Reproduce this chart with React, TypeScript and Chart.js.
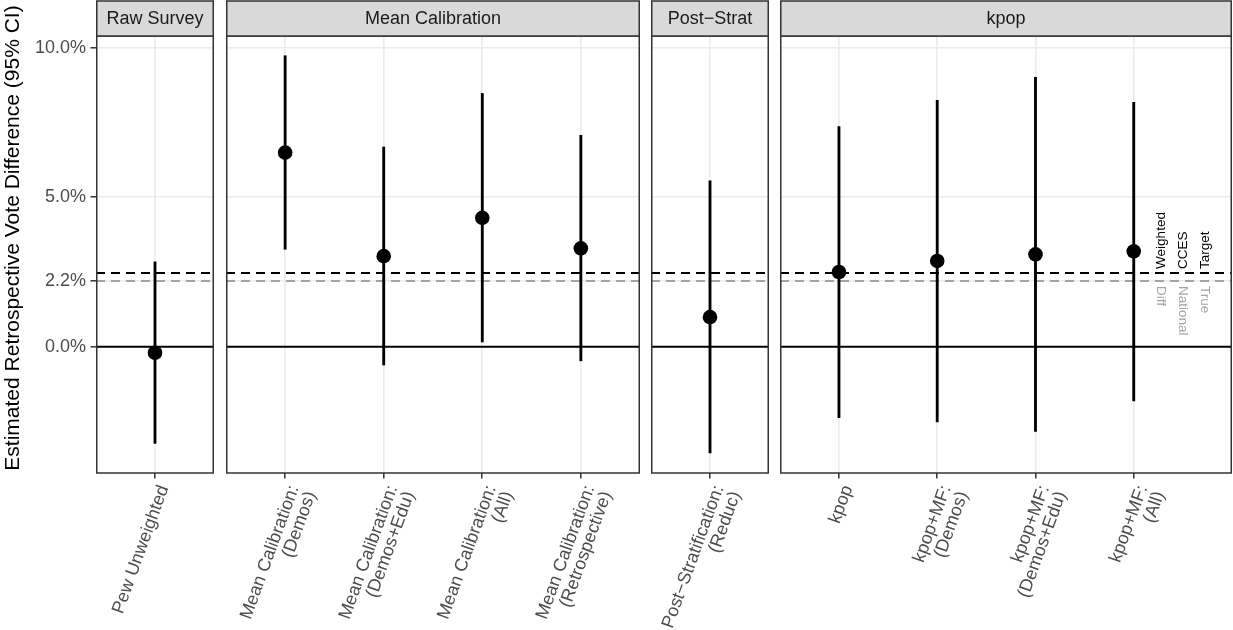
import React, { useEffect, useRef } from 'react';
import { Chart, registerables } from 'chart.js';

Chart.register(...registerables);

const FONT = "'Liberation Sans', Arial, Helvetica, sans-serif";

// ---------- data ----------
const FACETS = ['Raw Survey', 'Mean Calibration', 'Post\u2212Strat', 'kpop'];

const RAW_LABELS: (string | string[])[] = ['Pew Unweighted'];
const RAW_EST = [-0.2];
const RAW_LO = [-3.23];
const RAW_HI = [2.84];

const MEAN_LABELS: (string | string[])[] = [
  ['Mean Calibration:', '(Demos)'],
  ['Mean Calibration:', '(Demos+Edu)'],
  ['Mean Calibration:', '(All)'],
  ['Mean Calibration:', '(Retrospective)'],
];
const MEAN_EST = [6.49, 3.03, 4.31, 3.29];
const MEAN_LO = [3.26, -0.61, 0.16, -0.47];
const MEAN_HI = [9.73, 6.68, 8.47, 7.07];

const POST_LABELS: (string | string[])[] = [['Post\u2212Stratification:', '(Reduc)']];
const POST_EST = [0.99];
const POST_LO = [-3.55];
const POST_HI = [5.55];

const KPOP_LABELS: (string | string[])[] = [
  'kpop',
  ['kpop+MF:', '(Demos)'],
  ['kpop+MF:', '(Demos+Edu)'],
  ['kpop+MF:', '(All)'],
];
const KPOP_EST = [2.5, 2.87, 3.09, 3.19];
const KPOP_LO = [-2.37, -2.51, -2.83, -1.81];
const KPOP_HI = [7.36, 8.24, 9.01, 8.17];

const Y_BREAKS = [0, 2.2, 5, 10];
const Y_MIN = -4.22;
const Y_MAX = 10.39;
const ZERO_LINE = 0;
const WEIGHTED_TARGET = 2.47;
const TRUE_DIFF = 2.2;
const TARGET_LABEL = ['Weighted', 'CCES', 'Target'];
const TRUE_LABEL = ['True', 'National', 'Diff'];
const TARGET_LABEL_X = 4.5;
const Y_TITLE = 'Estimated Retrospective Vote Difference (95% CI)';

// ---------- layout ----------
type PanelCfg = {
  title: string;
  labels: (string | string[])[];
  est: number[];
  lo: number[];
  hi: number[];
  left: number;
  width: number;
  xMin: number;
  xMax: number;
  yAxisWidth: number;
  annotate: boolean;
};

const PANELS: PanelCfg[] = [
  { title: FACETS[0], labels: RAW_LABELS, est: RAW_EST, lo: RAW_LO, hi: RAW_HI, left: 0, width: 214, xMin: 0.4, xMax: 1.6, yAxisWidth: 96, annotate: false },
  { title: FACETS[1], labels: MEAN_LABELS, est: MEAN_EST, lo: MEAN_LO, hi: MEAN_HI, left: 226, width: 414, xMin: 0.4, xMax: 4.6, yAxisWidth: 0, annotate: false },
  { title: FACETS[2], labels: POST_LABELS, est: POST_EST, lo: POST_LO, hi: POST_HI, left: 651, width: 118, xMin: 0.4, xMax: 1.6, yAxisWidth: 0, annotate: false },
  { title: FACETS[3], labels: KPOP_LABELS, est: KPOP_EST, lo: KPOP_LO, hi: KPOP_HI, left: 780, width: 452, xMin: 0.4, xMax: 5.0, yAxisWidth: 0, annotate: true },
];

const H = 630;
const STRIP_TOP = 1;
const PANEL_TOP = 36;
const X_AXIS_H = 157;

const decorPlugin = {
  id: 'decor',
  afterDatasetsDraw(chart: any) {
    const o = chart.options.plugins.decor;
    if (!o || !o.annotate) return;
    const { ctx } = chart;
    const xs = chart.scales.x;
    const ys = chart.scales.y;
    const cx = xs.getPixelForValue(TARGET_LABEL_X);
    const step = 22;
    ctx.save();
    ctx.font = `13.5px ${FONT}`;
    ctx.textBaseline = 'middle';
    ctx.textAlign = 'left';
    ctx.save();
    ctx.translate(cx, ys.getPixelForValue(WEIGHTED_TARGET) - 4);
    ctx.rotate(-Math.PI / 2);
    ctx.fillStyle = '#000000';
    TARGET_LABEL.forEach((t, i) => ctx.fillText(t, 0, (i - 1) * step));
    ctx.restore();
    ctx.save();
    ctx.translate(cx, ys.getPixelForValue(TRUE_DIFF) + 5);
    ctx.rotate(Math.PI / 2);
    ctx.fillStyle = '#A3A3A3';
    TRUE_LABEL.forEach((t, i) => ctx.fillText(t, 0, (i - 1) * step));
    ctx.restore();
    ctx.restore();
  },
  afterDraw(chart: any) {
    const o = chart.options.plugins.decor;
    const { ctx, chartArea: a } = chart;
    ctx.save();
    ctx.lineWidth = 1.5;
    ctx.strokeStyle = '#333333';
    const l = a.left + 0.75;
    const w = a.right - a.left - 1.5;
    ctx.strokeRect(l, a.top, w, a.bottom - a.top);
    ctx.fillStyle = '#D9D9D9';
    ctx.fillRect(l, STRIP_TOP, w, a.top - STRIP_TOP);
    ctx.strokeRect(l, STRIP_TOP, w, a.top - STRIP_TOP);
    ctx.fillStyle = '#1A1A1A';
    ctx.font = `18px ${FONT}`;
    ctx.textAlign = 'center';
    ctx.textBaseline = 'middle';
    ctx.fillText(o.title, (a.left + a.right) / 2, (STRIP_TOP + a.top) / 2 + 1);
    if (o.yTitle) {
      ctx.save();
      ctx.translate(13, 238);
      ctx.rotate(-Math.PI / 2);
      ctx.fillStyle = '#000000';
      ctx.font = `21px ${FONT}`;
      ctx.fillText(o.yTitle, 0, 0);
      ctx.restore();
    }
    ctx.restore();
  },
};

function Panel({ cfg }: { cfg: PanelCfg }) {
  const ref = useRef<HTMLCanvasElement | null>(null);
  useEffect(() => {
    if (!ref.current) return;
    const hasY = cfg.yAxisWidth > 0;
    const hline = (v: number) => [
      { x: cfg.xMin, y: v },
      { x: cfg.xMax, y: v },
    ];
    const chart = new Chart(ref.current, {
      type: 'scatter',
      data: {
        datasets: [
          {
            type: 'scatter',
            data: cfg.est.map((v, i) => ({ x: i + 1, y: v })),
            pointRadius: 7.3,
            pointHoverRadius: 7.3,
            backgroundColor: '#000000',
            borderWidth: 0,
            order: 0,
          } as any,
          {
            type: 'bar',
            data: cfg.lo.map((v, i) => ({ x: i + 1, y: [v, cfg.hi[i]] })),
            backgroundColor: '#000000',
            borderWidth: 0,
            barThickness: 2.2,
            grouped: false,
            order: 1,
          } as any,
          {
            type: 'line',
            data: hline(ZERO_LINE),
            borderColor: '#000000',
            borderWidth: 2,
            pointRadius: 0,
            order: 2,
          } as any,
          {
            type: 'line',
            data: hline(WEIGHTED_TARGET),
            borderColor: '#000000',
            borderWidth: 2,
            borderDash: [9, 6],
            pointRadius: 0,
            order: 3,
          } as any,
          {
            type: 'line',
            data: hline(TRUE_DIFF),
            borderColor: '#A3A3A3',
            borderWidth: 2,
            borderDash: [9, 6],
            pointRadius: 0,
            order: 4,
          } as any,
        ],
      },
      options: {
        responsive: false,
        maintainAspectRatio: false,
        devicePixelRatio: 1,
        animation: false,
        events: [],
        layout: { autoPadding: false, padding: { top: PANEL_TOP, left: 0, right: 0, bottom: 0 } },
        plugins: {
          legend: { display: false },
          tooltip: { enabled: false },
          decor: { title: cfg.title, annotate: cfg.annotate, yTitle: hasY ? Y_TITLE : '' },
        } as any,
        scales: {
          x: {
            type: 'linear',
            min: cfg.xMin,
            max: cfg.xMax,
            offset: false,
            afterBuildTicks: (s: any) => {
              s.ticks = cfg.labels.map((_, i) => ({ value: i + 1 }));
            },
            afterFit: (s: any) => {
              s.height = X_AXIS_H;
              s.paddingLeft = 0;
              s.paddingRight = 0;
            },
            ticks: {
              autoSkip: false,
              minRotation: 70,
              maxRotation: 70,
              padding: 4.5,
              labelOffset: 9,
              color: '#4D4D4D',
              font: { family: FONT, size: 18, lineHeight: 1.0 },
              callback: (v: any) => cfg.labels[Math.round(Number(v)) - 1] ?? '',
            },
            grid: {
              offset: false,
              color: '#EBEBEB',
              lineWidth: 1.6,
              drawTicks: true,
              tickLength: 5.5,
              tickColor: '#333333',
              tickWidth: 1.5,
            },
            border: { display: false },
          } as any,
          y: {
            type: 'linear',
            min: Y_MIN,
            max: Y_MAX,
            afterBuildTicks: (s: any) => {
              s.ticks = Y_BREAKS.map((v) => ({ value: v }));
            },
            afterFit: (s: any) => {
              s.width = cfg.yAxisWidth;
              s.paddingTop = 0;
              s.paddingBottom = 0;
            },
            ticks: {
              display: hasY,
              padding: 4.5,
              color: '#4D4D4D',
              font: { family: FONT, size: 18 },
              callback: (v: any) => Number(v).toFixed(1) + '%',
            },
            grid: {
              color: '#EBEBEB',
              lineWidth: 1.6,
              drawTicks: hasY,
              tickLength: 5.5,
              tickColor: '#333333',
              tickWidth: 1.5,
            },
            border: { display: false },
          } as any,
        },
      },
      plugins: [decorPlugin as any],
    });
    return () => chart.destroy();
  }, [cfg]);
  return (
    <canvas
      ref={ref}
      width={cfg.width}
      height={H}
      style={{ position: 'absolute', left: cfg.left, top: 0, width: cfg.width, height: H }}
    />
  );
}

export default function App() {
  return (
    <div
      style={{
        position: 'fixed',
        left: 0,
        top: 0,
        width: 1233,
        height: H,
        background: '#FFFFFF',
        overflow: 'hidden',
      }}
    >
      {PANELS.map((p) => (
        <Panel key={p.title} cfg={p} />
      ))}
    </div>
  );
}
